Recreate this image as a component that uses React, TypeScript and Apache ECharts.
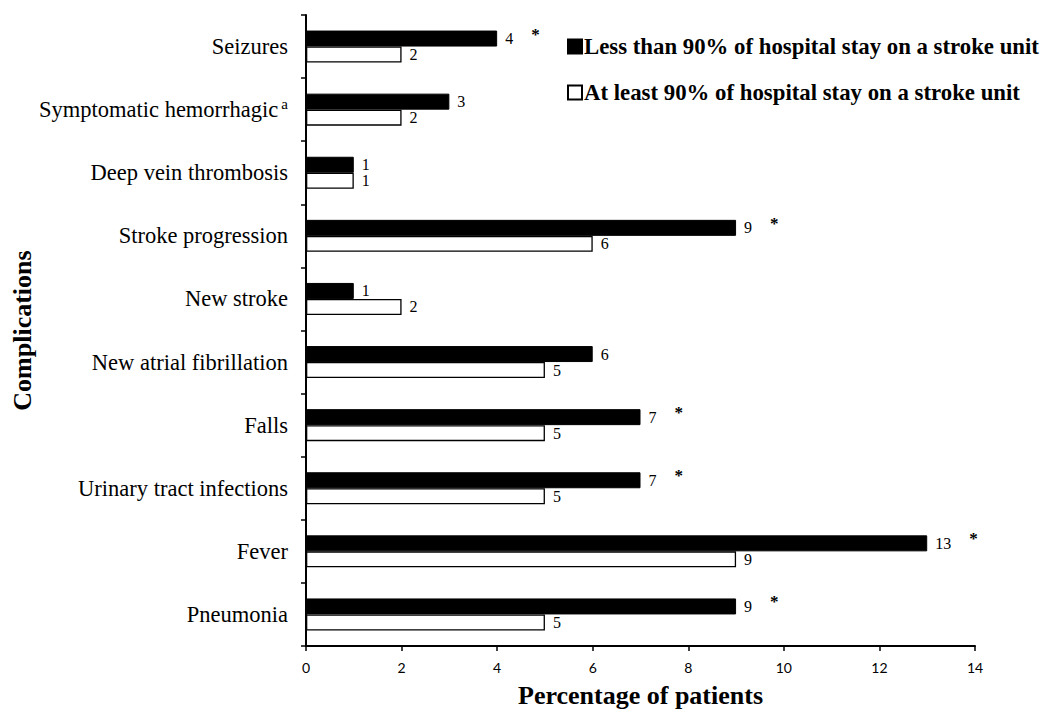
import React, { useEffect, useRef } from "react";
import * as echarts from "echarts";

const categories = [
  "Seizures",
  "Symptomatic hemorrhagic",
  "Deep vein thrombosis",
  "Stroke progression",
  "New stroke",
  "New atrial fibrillation",
  "Falls",
  "Urinary tract infections",
  "Fever",
  "Pneumonia",
];
const lessThan90 = [4, 3, 1, 9, 1, 6, 7, 7, 13, 9];
const atLeast90 = [2, 2, 1, 6, 2, 5, 5, 5, 9, 5];
const significant = [true, false, false, true, false, false, true, true, true, true];
const seriesNames = [
  "Less than 90% of hospital stay on a stroke unit",
  "At least 90% of hospital stay on a stroke unit",
];
const xTicks = { min: 0, max: 14, interval: 2 };

const SERIF = "'Liberation Serif', 'Times New Roman', serif";
const SANS = "Lato, 'Open Sans', sans-serif";

export default function App() {
  const ref = useRef<HTMLDivElement>(null);
  useEffect(() => {
    if (!ref.current) return;
    const chart = echarts.init(ref.current, null, { renderer: "svg" });
    chart.setOption({
      animation: false,
      backgroundColor: "#fff",
      grid: { left: 306, right: 71, top: 15, bottom: 63, containLabel: false, outerBoundsMode: "none" },
      legend: {
        orient: "vertical",
        left: 562,
        top: 30,
        itemGap: 23,
        itemWidth: 14,
        itemHeight: 14,
        icon: "rect",
        textStyle: { fontFamily: SERIF, fontWeight: "bold", fontSize: 22.8, color: "#000", padding: [0, 0, 0, -3] },
        data: seriesNames,
      },
      xAxis: {
        type: "value",
        min: xTicks.min,
        max: xTicks.max,
        interval: xTicks.interval,
        splitLine: { show: false },
        axisLine: { show: true, lineStyle: { color: "#000", width: 2 } },
        axisTick: { show: true, length: 5, lineStyle: { color: "#000", width: 1.5 } },
        axisLabel: { fontFamily: SANS, fontSize: 14, color: "#000", margin: 14 },
        name: "Percentage of patients",
        nameLocation: "middle",
        nameGap: 36,
        nameMoveOverlap: false,
        nameTextStyle: { fontFamily: SERIF, fontWeight: "bold", fontSize: 26, color: "#000" },
      },
      yAxis: {
        type: "category",
        inverse: true,
        data: categories,
        axisLine: { show: true, lineStyle: { color: "#000", width: 2 } },
        axisTick: { show: true, length: 5, lineStyle: { color: "#000", width: 1.5 } },
        axisLabel: {
          fontFamily: SERIF,
          fontSize: 22.5,
          color: "#000",
          margin: 18,
          formatter: (v: string) => (v === "Symptomatic hemorrhagic" ? v + "{sup|a}" : v),
          rich: {
            sup: { fontFamily: SERIF, fontSize: 15, color: "#000", padding: [0, 0, 11, 3] },
          },
        },
        name: "Complications",
        nameLocation: "middle",
        nameGap: 271,
        nameRotate: 90,
        nameMoveOverlap: false,
        nameTextStyle: { fontFamily: SERIF, fontWeight: "bold", fontSize: 26, color: "#000" },
      },
      series: [
        {
          name: seriesNames[0],
          type: "bar",
          data: lessThan90,
          barWidth: 16,
          barGap: "0%",
          itemStyle: { color: "#000", borderColor: "#000", borderWidth: 1 },
          label: {
            show: true,
            position: "right",
            distance: 8,
            fontFamily: SERIF,
            fontSize: 16,
            color: "#000",
            formatter: (p: any) =>
              significant[p.dataIndex] ? `{v|${p.value}}{s|*}` : `${p.value}`,
            rich: {
              v: { fontFamily: SERIF, fontSize: 16, color: "#000" },
              s: { fontFamily: SERIF, fontSize: 17, fontWeight: "bold", color: "#000", padding: [0, 0, 9, 18] },
            },
          },
        },
        {
          name: seriesNames[1],
          type: "bar",
          data: atLeast90,
          barWidth: 16,
          barGap: "0%",
          itemStyle: { color: "#fff", borderColor: "#000", borderWidth: 1.3 },
          label: {
            show: true,
            position: "right",
            distance: 8,
            fontFamily: SERIF,
            fontSize: 16,
            color: "#000",
          },
        },
      ],
    });
    return () => chart.dispose();
  }, []);
  return (
    <div
      ref={ref}
      style={{ position: "fixed", left: 0, top: 0, width: 1046, height: 709, background: "#fff" }}
    />
  );
}
